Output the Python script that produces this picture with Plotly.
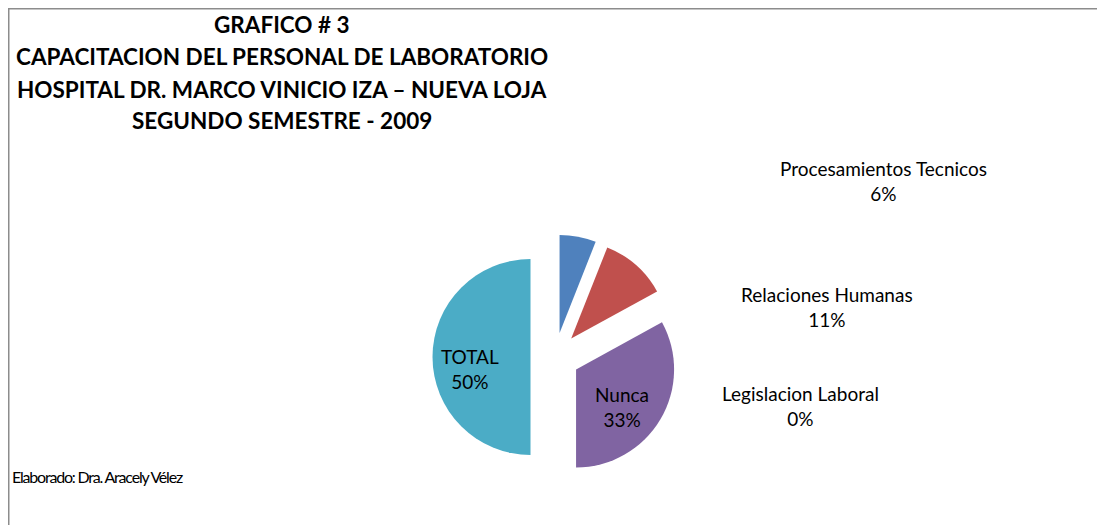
import plotly.graph_objects as go

labels = ["Procesamientos Tecnicos", "Relaciones Humanas", "Legislacion Laboral", "Nunca", "TOTAL"]
values = [6, 11, 0, 33, 50]
colors = ["#4F81BD", "#C0504D", "#9BBB59", "#8064A2", "#4BACC6"]

title_lines = ["GRAFICO # 3",
               "CAPACITACION DEL PERSONAL DE LABORATORIO",
               "HOSPITAL DR. MARCO VINICIO IZA \u2013 NUEVA LOJA",
               "SEGUNDO SEMESTRE - 2009"]
footer = "Elaborado: Dra. Aracely V\u00e9lez"

FONT = "Lato"
W, H = 1105, 525

fig = go.Figure()
fig.add_trace(go.Pie(
    labels=labels, values=values, sort=False, direction="clockwise", rotation=0,
    marker=dict(colors=colors, line=dict(width=0)),
    pull=[0.25] * len(values),
    textinfo="none",
    domain=dict(x=[424.5 / W, 669.5 / W], y=[53.5 / H, 298.5 / H]),
    showlegend=False, hoverinfo="label+percent",
))

total = sum(values)
# label centre positions (pixels) for each slice
label_pos = [(875, 173), (819, 299), (792, 398), (614, 399), (462, 361)]
anns = []
for i, (x, y) in enumerate(label_pos):
    pct = round(100 * values[i] / total)
    anns.append(dict(x=x / W, y=1 - y / H, xref="paper", yref="paper",
                     text=f"{labels[i]}<br>{pct}%",
                     showarrow=False, align="center", xanchor="center", yanchor="middle",
                     font=dict(family=FONT, size=19, color="black")))
for j, (line, y) in enumerate(zip(title_lines, [16.5, 48.5, 81.5, 112.5])):
    anns.append(dict(x=274 / W, y=1 - y / H, xref="paper", yref="paper", text=f"<b>{line}</b>",
                     showarrow=False, xanchor="center", yanchor="middle",
                     font=dict(family=FONT, size=22.5, color="black")))
anns.append(dict(x=2 / W, y=1 - 468 / H, xref="paper", yref="paper",
                 text=f'<span style="letter-spacing:-1.2px">{footer}</span>',
                 showarrow=False, xanchor="left", yanchor="middle",
                 font=dict(family=FONT, size=16, color="black")))

fig.update_layout(
    width=W, height=H, margin=dict(l=0, r=0, t=0, b=0),
    paper_bgcolor="white", plot_bgcolor="white",
    annotations=anns,
    shapes=[
        dict(type="line", xref="paper", yref="paper", x0=0, x1=1, y0=1 - 0.75 / H, y1=1 - 0.75 / H,
             line=dict(color="#8c8c8c", width=1.5)),
        dict(type="line", xref="paper", yref="paper", x0=0.75 / W, x1=0.75 / W, y0=0, y1=1,
             line=dict(color="#8c8c8c", width=1.5)),
    ],
)
fig.write_html("out.html")
